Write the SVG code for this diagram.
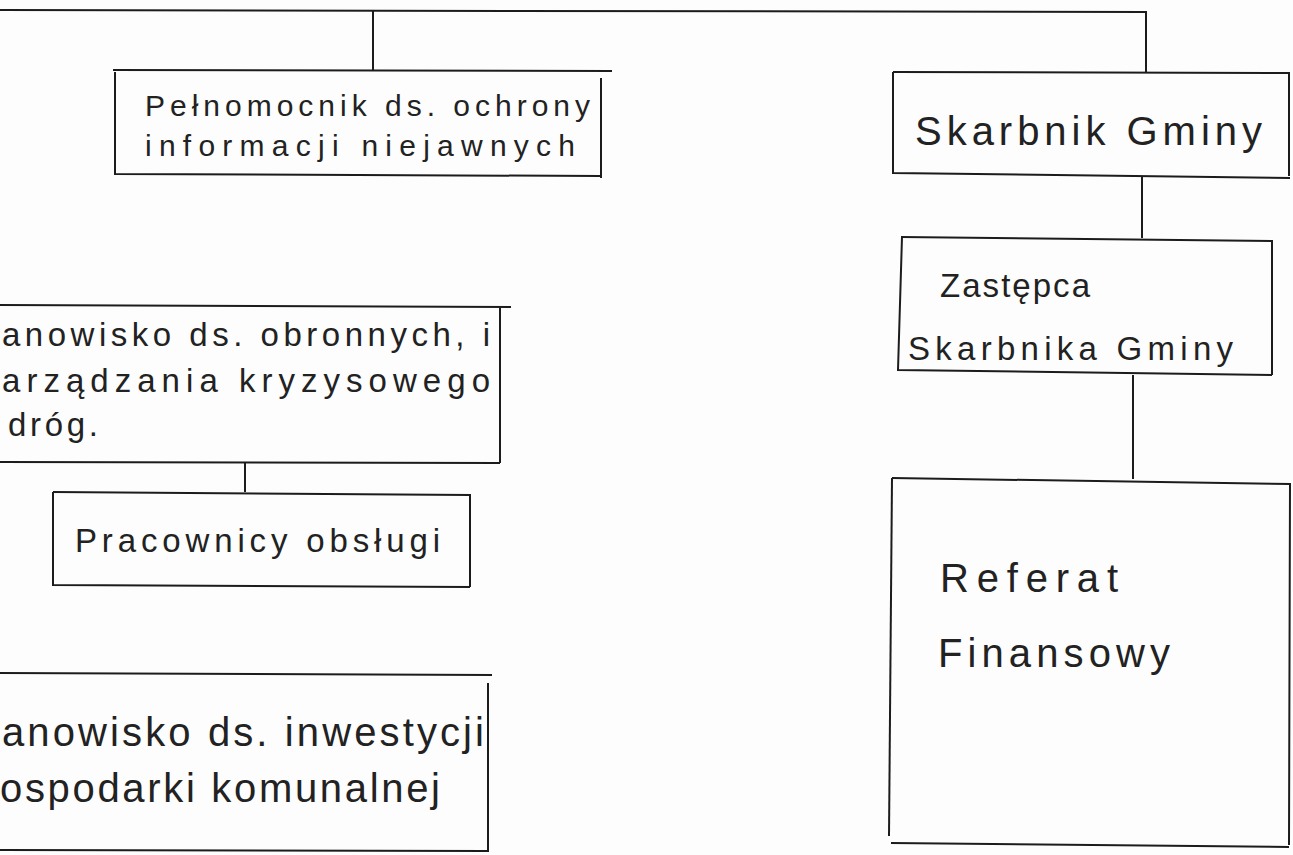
<svg xmlns="http://www.w3.org/2000/svg" width="1293" height="855" viewBox="0 0 1293 855">
<style>
.box{fill:none;stroke:#1c1c1c;stroke-width:2}
.ln{fill:none;stroke:#1c1c1c;stroke-width:2}
.t{font-family:"Liberation Sans","DejaVu Sans",sans-serif;fill:#222;font-size:33px}
.ts{font-family:"Liberation Sans","DejaVu Sans",sans-serif;fill:#222;font-size:30px}
.tb{font-family:"Liberation Sans","DejaVu Sans",sans-serif;fill:#222;font-size:40px}
</style>
<rect width="1293" height="855" fill="#fdfdfd"/>
<g id="connectors">
<polyline class="ln" points="0,10 1146,12 1146,72"/>
<line class="ln" x1="373" y1="11" x2="373" y2="70"/>
<line class="ln" x1="1142" y1="176" x2="1142" y2="238"/>
<line class="ln" x1="1133" y1="375" x2="1133" y2="479"/>
<line class="ln" x1="245" y1="463" x2="245" y2="492"/>
</g>
<g id="pelnomocnik">
<polyline class="box" points="113,70 612,71"/>
<polyline class="box" points="115,72 115,174 600,176"/>
<line class="box" x1="601" y1="78" x2="601" y2="178"/>
<text class="ts" x="145" y="116" textLength="445">Pełnomocnik ds. ochrony</text>
<text class="ts" x="145" y="156" textLength="430">informacji niejawnych</text>
</g>
<g id="skarbnik">
<polyline class="box" points="893,72 1290,73"/>
<polyline class="box" points="893,72 893,173 1290,178"/>
<line class="box" x1="1289" y1="73" x2="1289" y2="176"/>
<text class="tb" x="915" y="145" textLength="347">Skarbnik Gminy</text>
</g>
<g id="zastepca">
<polyline class="box" points="901,237 1272,241 1272,375"/>
<polyline class="box" points="902,237 898,370 1272,375"/>
<text class="t" x="940" y="297" textLength="150">Zastępca</text>
<text class="t" x="908" y="360" textLength="325">Skarbnika Gminy</text>
</g>
<g id="referat">
<polyline class="box" points="892,478 1290,484 1289,845"/>
<polyline class="box" points="892,478 889,836"/>
<line class="box" x1="891" y1="843" x2="1289" y2="847"/>
<text class="tb" x="940" y="592" textLength="178">Referat</text>
<text class="tb" x="938" y="667" textLength="232">Finansowy</text>
</g>
<g id="stanowisko-obronne">
<polyline class="box" points="0,305 511,307"/>
<line class="box" x1="500" y1="308" x2="500" y2="463"/>
<line class="box" x1="0" y1="462" x2="500" y2="463"/>
<text class="t" x="2" y="346" textLength="488">anowisko ds. obronnych, i</text>
<text class="t" x="2" y="392" textLength="488">arządzania kryzysowego</text>
<text class="t" x="8" y="436" textLength="90">dróg.</text>
</g>
<g id="pracownicy">
<polyline class="box" points="53,492 470,495 470,587"/>
<polyline class="box" points="53,492 53,585 470,587"/>
<text class="t" x="75" y="552" textLength="365">Pracownicy obsługi</text>
</g>
<g id="stanowisko-inwestycje">
<line class="box" x1="0" y1="673" x2="492" y2="675"/>
<line class="box" x1="488" y1="683" x2="488" y2="852"/>
<line class="box" x1="0" y1="850" x2="488" y2="851"/>
<text class="tb" x="2" y="746" textLength="482">anowisko ds. inwestycji</text>
<text class="tb" x="0" y="802" textLength="440">ospodarki komunalnej</text>
</g>
</svg>
